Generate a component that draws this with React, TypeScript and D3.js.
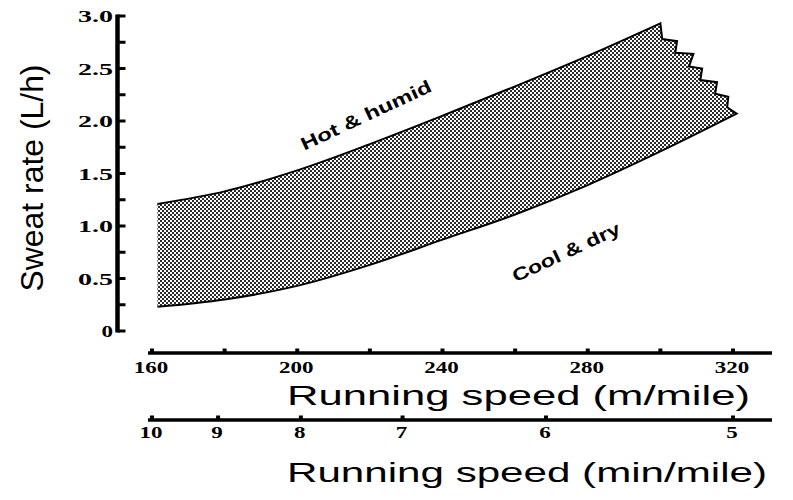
import * as React from 'react';
import * as d3 from 'd3';

// band edges (speed in m/min, sweat rate in L/h)
const upperSpeed = [161.5, 180, 200, 220, 240, 260, 280, 300];
const upperRate = [1.21, 1.33, 1.53, 1.78, 2.05, 2.33, 2.62, 2.93];
const lowerSpeed = [161.5, 180, 200, 220, 240, 260, 280, 300, 321];
const lowerRate = [0.23, 0.30, 0.43, 0.63, 0.87, 1.11, 1.39, 1.71, 2.07];
// saw-tooth edge on the right, top to bottom
const edgeSpeed = [300.5, 304.6, 304.1, 309.1, 307.9, 311.5, 311.0, 315.6, 315.1, 318.7, 318.4];
const edgeRate = [2.78, 2.76, 2.65, 2.64, 2.52, 2.50, 2.39, 2.37, 2.26, 2.23, 2.13];

const rateTicks = [0, 0.25, 0.5, 0.75, 1.0, 1.25, 1.5, 1.75, 2.0, 2.25, 2.5, 2.75, 3.0];
const rateLabels = ['0', '', '0.5', '', '1.0', '', '1.5', '', '2.0', '', '2.5', '', '3.0'];
const speedTicks = [160, 180, 200, 220, 240, 260, 280, 300, 320];
const speedLabels = ['160', '', '200', '', '240', '', '280', '', '320'];
const paceLabels = ['10', '9', '8', '7', '6', '5'];
const paceAtSpeed = [160, 178.2, 201, 229, 268.5, 320];

const labelWidth = (s: string) => s.replace('.', '').length * 11.5 + (s.includes('.') ? 12 : 0);

class App extends React.Component {

  // tslint:disable-next-line:no-any
  svgRef: React.RefObject<any>;

  constructor(props: {}) {
    super(props);
    this.svgRef = React.createRef();
  }

  componentDidMount() {
    const svg = d3.select(this.svgRef.current);
    svg.selectAll('*').remove();

    const x = d3.scaleLinear().domain([160, 320]).range([152, 733]);
    const y = d3.scaleLinear().domain([0, 3]).range([331, 16]);

    const serif = "'Liberation Serif', 'Times New Roman', serif";
    const sans = "'Liberation Sans', Arial, sans-serif";

    const defs = svg.append('defs');
    const pat = defs.append('pattern')
      .attr('id', 'stipple')
      .attr('patternUnits', 'userSpaceOnUse')
      .attr('width', 4)
      .attr('height', 4);
    pat.append('rect').attr('width', 4).attr('height', 4).attr('fill', '#fff');
    pat.append('rect').attr('x', 0).attr('y', 0).attr('width', 2).attr('height', 2).attr('fill', '#2a2a2a');
    pat.append('rect').attr('x', 2).attr('y', 2).attr('width', 2).attr('height', 2).attr('fill', '#2a2a2a');

    // band
    const line = d3.line<[number, number]>()
      .x(d => x(d[0]))
      .y(d => y(d[1]))
      .curve(d3.curveCatmullRom);
    const upperPts = upperSpeed.map((s, i) => [s, upperRate[i]] as [number, number]);
    const lowerPts = lowerSpeed.map((s, i) => [s, lowerRate[i]] as [number, number]).reverse();
    const edgePath = edgeSpeed.map((s, i) => `L${x(s)},${y(edgeRate[i])}`).join('');
    const outline = (line(upperPts) || '') + edgePath + (line(lowerPts) || '').replace(/^M/, 'L');

    svg.append('path')
      .attr('d', outline + 'Z')
      .attr('fill', 'url(#stipple)');
    svg.append('path')
      .attr('d', outline)
      .attr('fill', 'none')
      .attr('stroke', '#000')
      .attr('stroke-width', 2)
      .attr('stroke-linejoin', 'miter');

    // y axis
    const axisX = 117.5;
    svg.append('line')
      .attr('x1', axisX).attr('x2', axisX)
      .attr('y1', y(3) - 1.5).attr('y2', y(0) + 1.5)
      .attr('stroke', '#000').attr('stroke-width', 4.5);
    svg.selectAll('.ytick')
      .data(rateTicks)
      .enter().append('line')
      .attr('x1', axisX).attr('x2', axisX + 8)
      .attr('y1', d => y(d)).attr('y2', d => y(d))
      .attr('stroke', '#000').attr('stroke-width', 3);
    svg.selectAll('.ylabel')
      .data(rateTicks.filter((d, i) => rateLabels[i] !== ''))
      .enter().append('text')
      .attr('x', 113)
      .attr('y', d => y(d) + 6)
      .attr('text-anchor', 'end')
      .attr('font-family', serif)
      .attr('font-weight', 'bold')
      .attr('font-size', 17)
      .attr('textLength', d => labelWidth(rateLabels[rateTicks.indexOf(d)]))
      .attr('lengthAdjust', 'spacingAndGlyphs')
      .text(d => rateLabels[rateTicks.indexOf(d)]);

    svg.append('text')
      .attr('transform', `translate(43,178) rotate(-90)`)
      .attr('text-anchor', 'middle')
      .attr('font-family', "'Liberation Sans Narrow', 'Liberation Sans', Arial, sans-serif")
      .attr('font-size', 32)
      .attr('textLength', 227)
      .attr('lengthAdjust', 'spacingAndGlyphs')
      .text('Sweat rate (L/h)');

    // speed axis (m/mile)
    const axis1Y = 353;
    svg.append('line')
      .attr('x1', 148).attr('x2', 772)
      .attr('y1', axis1Y).attr('y2', axis1Y)
      .attr('stroke', '#000').attr('stroke-width', 3.3);
    svg.selectAll('.xtick1')
      .data(speedTicks)
      .enter().append('rect')
      .attr('x', d => x(d) - 2).attr('y', axis1Y - 4.5)
      .attr('width', 4).attr('height', 4)
      .attr('fill', '#000');
    svg.selectAll('.xlabel1')
      .data(speedTicks.filter((d, i) => speedLabels[i] !== ''))
      .enter().append('text')
      .attr('x', d => x(d) - 1)
      .attr('y', axis1Y + 20)
      .attr('text-anchor', 'middle')
      .attr('font-family', serif)
      .attr('font-weight', 'bold')
      .attr('font-size', 17)
      .attr('textLength', d => labelWidth(String(d)))
      .attr('lengthAdjust', 'spacingAndGlyphs')
      .text(d => String(d));
    svg.append('text')
      .attr('x', 287).attr('y', 405)
      .attr('font-family', sans)
      .attr('font-size', 27)
      .attr('textLength', 463)
      .attr('lengthAdjust', 'spacingAndGlyphs')
      .text('Running speed (m/mile)');

    // pace axis (min/mile)
    const axis2Y = 420;
    svg.append('line')
      .attr('x1', 148).attr('x2', 772)
      .attr('y1', axis2Y).attr('y2', axis2Y)
      .attr('stroke', '#000').attr('stroke-width', 3.3);
    svg.selectAll('.xtick2')
      .data(paceAtSpeed)
      .enter().append('rect')
      .attr('x', d => x(d) - 2).attr('y', axis2Y - 4.5)
      .attr('width', 4).attr('height', 4)
      .attr('fill', '#000');
    svg.selectAll('.xlabel2')
      .data(paceAtSpeed)
      .enter().append('text')
      .attr('x', d => x(d) - 1)
      .attr('y', axis2Y + 18)
      .attr('text-anchor', 'middle')
      .attr('font-family', serif)
      .attr('font-weight', 'bold')
      .attr('font-size', 17)
      .attr('textLength', (d, i) => labelWidth(paceLabels[i]))
      .attr('lengthAdjust', 'spacingAndGlyphs')
      .text((d, i) => paceLabels[i]);
    svg.append('text')
      .attr('x', 287).attr('y', 482)
      .attr('font-family', sans)
      .attr('font-size', 27)
      .attr('textLength', 480)
      .attr('lengthAdjust', 'spacingAndGlyphs')
      .text('Running speed (min/mile)');

    // condition labels
    svg.append('text')
      .attr('transform', 'translate(366,115) rotate(-25)')
      .attr('text-anchor', 'middle')
      .attr('dy', '0.35em')
      .attr('font-family', sans)
      .attr('font-weight', 'bold')
      .attr('font-size', 18)
      .attr('textLength', 142)
      .attr('lengthAdjust', 'spacingAndGlyphs')
      .text('Hot & humid');
    svg.append('text')
      .attr('transform', 'translate(566,252) rotate(-25)')
      .attr('text-anchor', 'middle')
      .attr('dy', '0.35em')
      .attr('font-family', sans)
      .attr('font-weight', 'bold')
      .attr('font-size', 18)
      .attr('textLength', 117)
      .attr('lengthAdjust', 'spacingAndGlyphs')
      .text('Cool & dry');
  }

  render() {
    return (
      <svg
        ref={this.svgRef}
        width={793}
        height={500}
        style={{ position: 'absolute', left: 0, top: 0, background: '#fff' }}
      />
    );
  }

}

export default App;
